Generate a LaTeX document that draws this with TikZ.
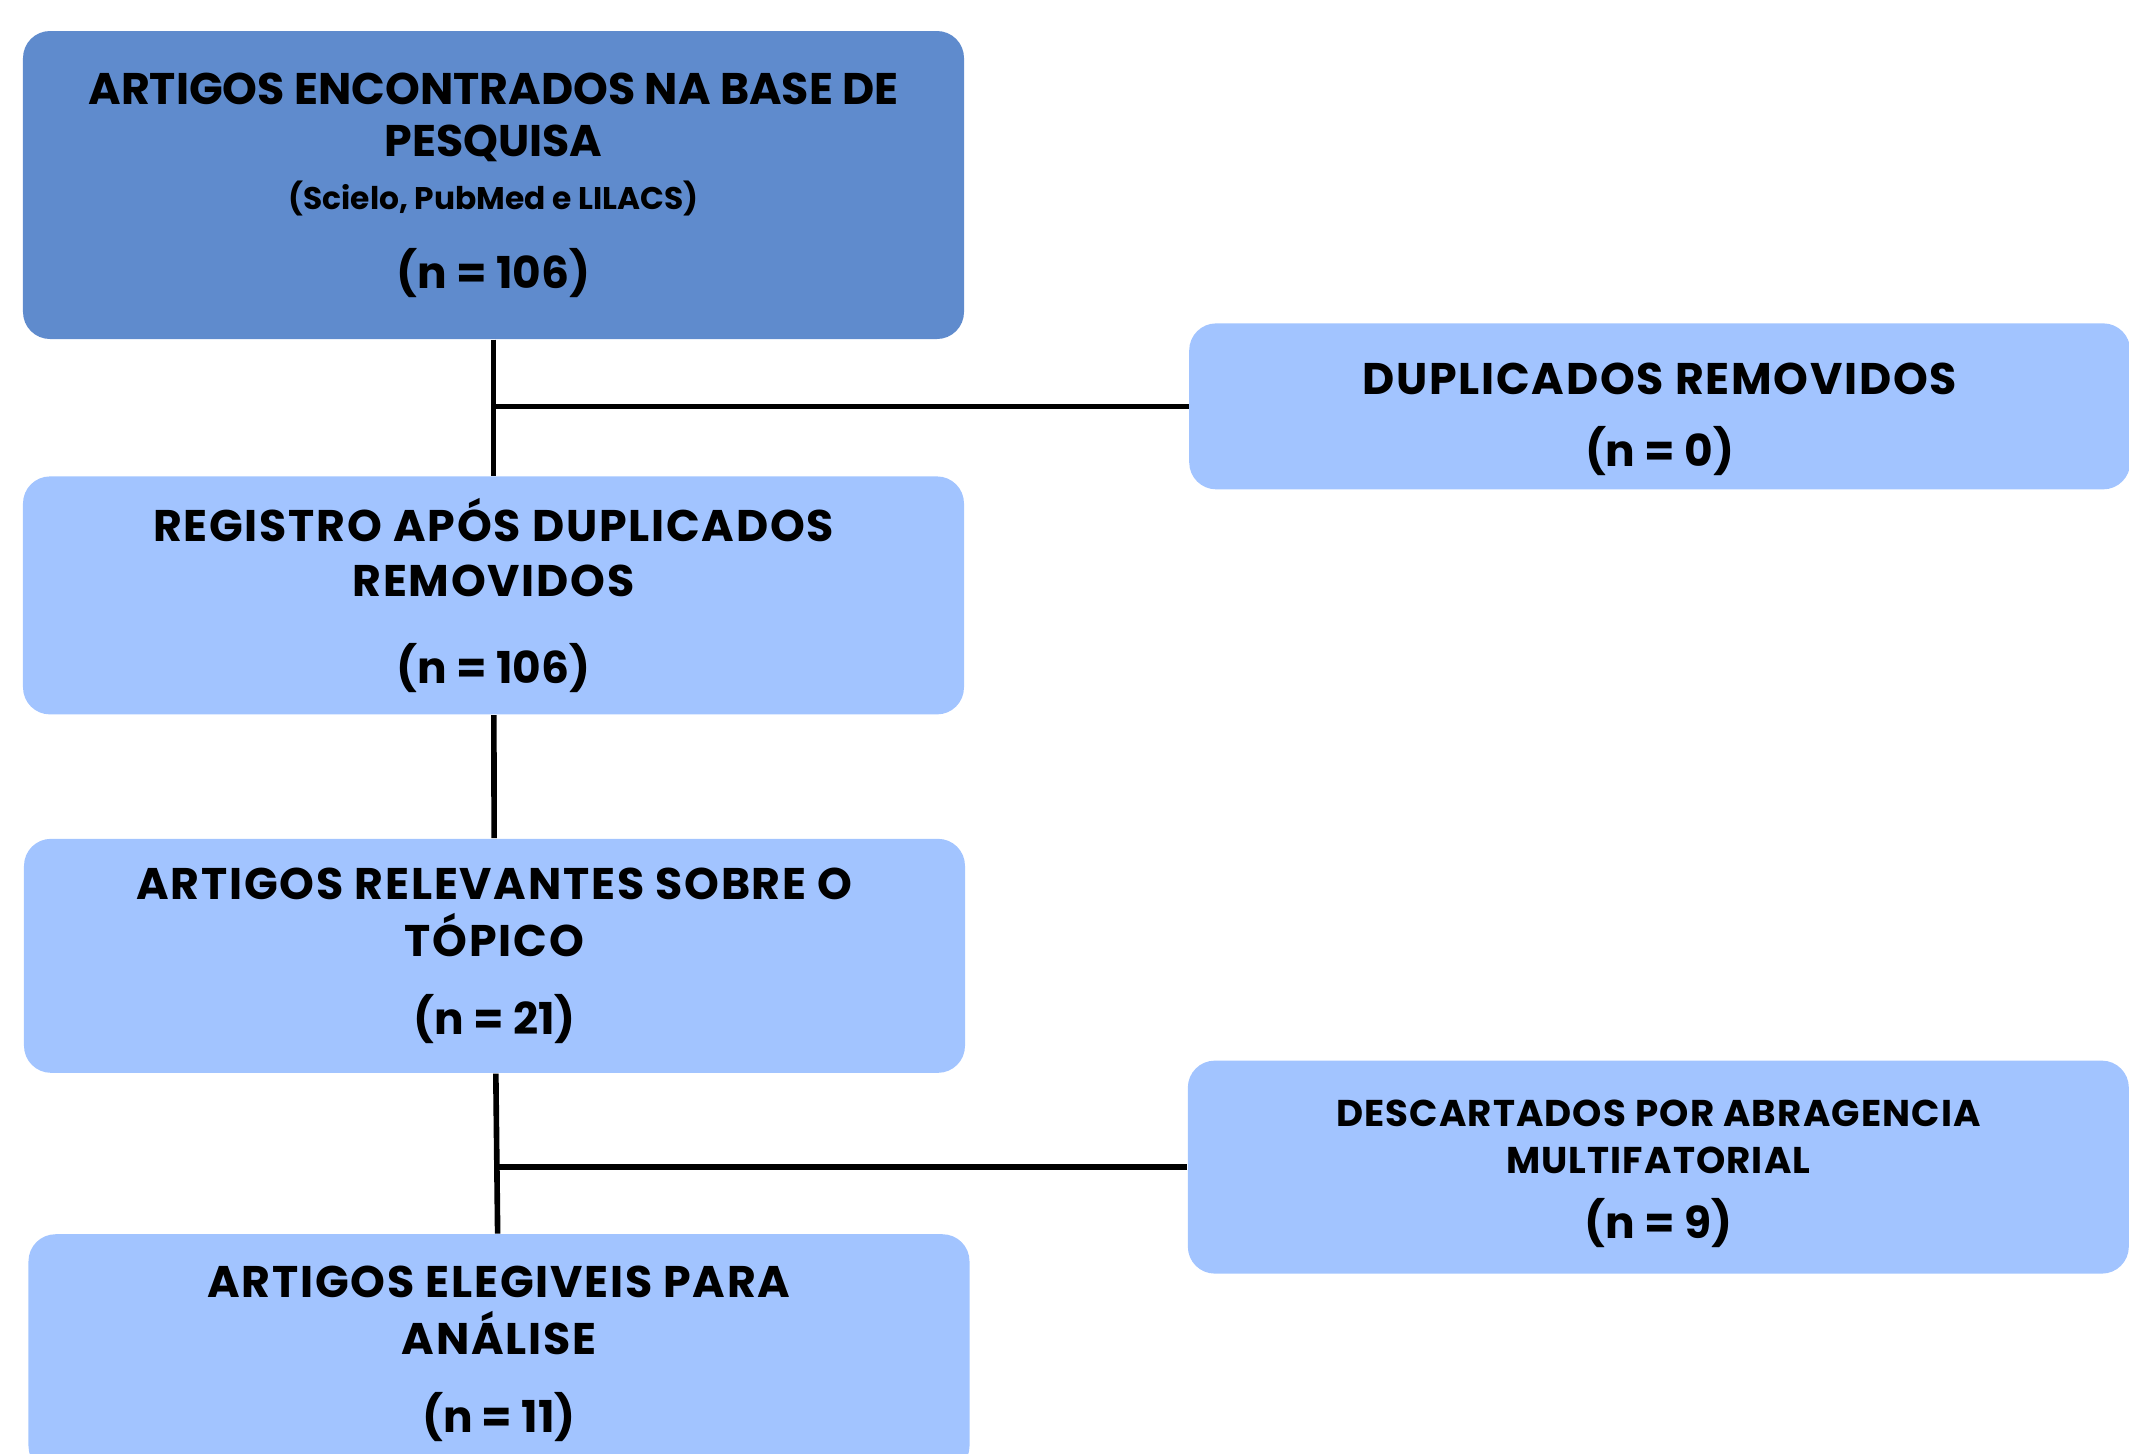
\documentclass[tikz,border=0pt]{standalone}
\usepackage{fontspec}
\setmainfont{Poppins}
\usetikzlibrary{positioning}
\definecolor{boxdark}{RGB}{95,139,205}
\definecolor{boxlight}{RGB}{162,196,255}
\newcommand{\headfont}{\fontsize{12.6}{15.5}\selectfont\bfseries}
\newcommand{\stagefont}{\headfont\addfontfeatures{LetterSpace=4}}
\newcommand{\sidefont}{\fontsize{10.6}{13.4}\selectfont\bfseries\addfontfeatures{LetterSpace=3}}
\newcommand{\notefont}{\normalfont\fontsize{8.9}{10}\selectfont\bfseries}
\newcommand{\countfont}{\normalfont\fontsize{12.5}{15.5}\selectfont\bfseries}
\tikzset {
  flow node/.style = {
    rectangle,
    rounded corners = 0.27cm,
    inner sep = 0,
    align = center,
    minimum width = 9.41cm,
    font = \headfont
  },
  % first box, darker blue
  source/.style = {
    flow node,
    fill = boxdark
  },
  % boxes along the main column
  stage/.style = {
    flow node,
    fill = boxlight,
    font = \stagefont
  },
  % boxes on the right branch
  side/.style = {
    stage
  },
  link/.style = {
    draw = black,
    line width = 1.6pt
  }
}

\begin{document}
\begin{tikzpicture}
    \useasboundingbox (0,0) rectangle (21.29,-14.54);

    \node[source, minimum height=3.08cm] (base) at (4.935,-1.85)
      {ARTIGOS ENCONTRADOS NA BASE DE\\[-0.7pt]PESQUISA\\[-0.4pt]
       {\notefont (Scielo, PubMed e LILACS)}\\[6.9pt]{\countfont (n = 106)}};
    \node[stage, minimum height=2.38cm] (registro) [below=1.36cm of base]
      {REGISTRO APÓS DUPLICADOS\\REMOVIDOS\\[9.2pt]{\countfont (n = 106)}};
    \node[stage, minimum height=2.34cm] (relevantes) [below=1.23cm of registro, xshift=0.01cm]
      {ARTIGOS RELEVANTES SOBRE O\\[0.7pt]TÓPICO\\[6.7pt]{\countfont (n = 21)}};
    \node[stage, minimum height=2.39cm] (elegiveis) [below=1.6cm of relevantes, xshift=0.045cm]
      {ARTIGOS ELEGIVEIS PARA\\[0.7pt]ANÁLISE\\[6.7pt]{\countfont (n = 11)}};

    \path (base.south) -- (registro.north) coordinate[pos=0.49] (split-dup);
    \path (relevantes.south) -- (elegiveis.north) coordinate[pos=0.585] (split-desc);

    % struts push the text a little lower in the side boxes
    \node[side, minimum height=1.66cm] (duplicados) [right=6.95cm of split-dup]
      {\rule{0pt}{16.2pt}DUPLICADOS REMOVIDOS\\[5pt]{\countfont (n = 0)}};
    \node[side, minimum height=2.13cm, font=\sidefont] (descartados) [right=6.9cm of split-desc]
      {\rule{0pt}{11.4pt}DESCARTADOS POR ABRAGENCIA\\MULTIFATORIAL\\[5pt]{\countfont (n = 9)}};

    \draw[link] (base) -- (registro);
    \draw[link] (registro) -- (relevantes);
    \draw[link] (relevantes) -- (elegiveis);
    \draw[link] (split-dup) -- (duplicados);
    \draw[link] (split-desc) -- (descartados);
\end{tikzpicture}
\end{document}
